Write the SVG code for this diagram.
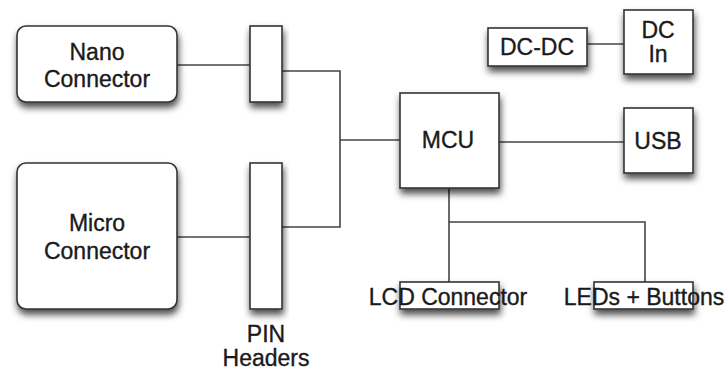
<svg xmlns="http://www.w3.org/2000/svg" width="728" height="370" viewBox="0 0 728 370">
<defs>
<filter id="sh" x="-20%" y="-20%" width="140%" height="170%">
<feDropShadow dx="1" dy="5" stdDeviation="3.5" flood-color="#000" flood-opacity="0.7"/>
</filter>
</defs>
<style>
.box{fill:#fff;stroke:#333;stroke-width:1.6;filter:url(#sh)}
.t{font-family:"Liberation Sans",Arial,sans-serif;font-size:23px;fill:#1a1a1a;stroke:#1a1a1a;stroke-width:0.35;text-anchor:middle}
.c{fill:none;stroke:#444;stroke-width:1.6}
</style>
<rect width="728" height="370" fill="#fff"/>
<g id="connectors">
<path class="c" d="M177 65H250"/>
<path class="c" d="M282 71H340V227H282"/>
<path class="c" d="M340 140H400"/>
<path class="c" d="M177 237H250"/>
<path class="c" d="M499 142H624"/>
<path class="c" d="M587 44H624"/>
<path class="c" d="M449 188V282"/>
<path class="c" d="M449 222H645V282"/>
</g>
<g id="nano"><rect class="box" x="17" y="26" width="160" height="76" rx="9"/><text class="t" x="97" y="60">Nano</text><text class="t" x="97" y="87">Connector</text></g>
<g id="micro"><rect class="box" x="17" y="163" width="160" height="146" rx="9"/><text class="t" x="97" y="231">Micro</text><text class="t" x="97" y="259">Connector</text></g>
<g id="pin1"><rect class="box" x="250" y="26" width="32" height="76"/></g>
<g id="pin2"><rect class="box" x="250" y="163" width="32" height="146"/><text class="t" x="266" y="342">PIN</text><text class="t" x="266" y="366">Headers</text></g>
<g id="mcu"><rect class="box" x="400" y="93" width="99" height="95"/><text class="t" x="448" y="148">MCU</text></g>
<g id="usb"><rect class="box" x="624" y="108" width="69" height="65"/><text class="t" x="658" y="149">USB</text></g>
<g id="dcdc"><rect class="box" x="488" y="28" width="99" height="38"/><text class="t" x="537" y="55">DC-DC</text></g>
<g id="dcin"><rect class="box" x="624" y="10" width="69" height="64"/><text class="t" x="658" y="38">DC</text><text class="t" x="658" y="62">In</text></g>
<g id="lcd"><rect class="box" x="400" y="282" width="99" height="27"/><text class="t" x="448" y="305">LCD Connector</text></g>
<g id="leds"><rect class="box" x="594" y="282" width="99" height="27"/><text class="t" x="644" y="305">LEDs + Buttons</text></g>
</svg>
